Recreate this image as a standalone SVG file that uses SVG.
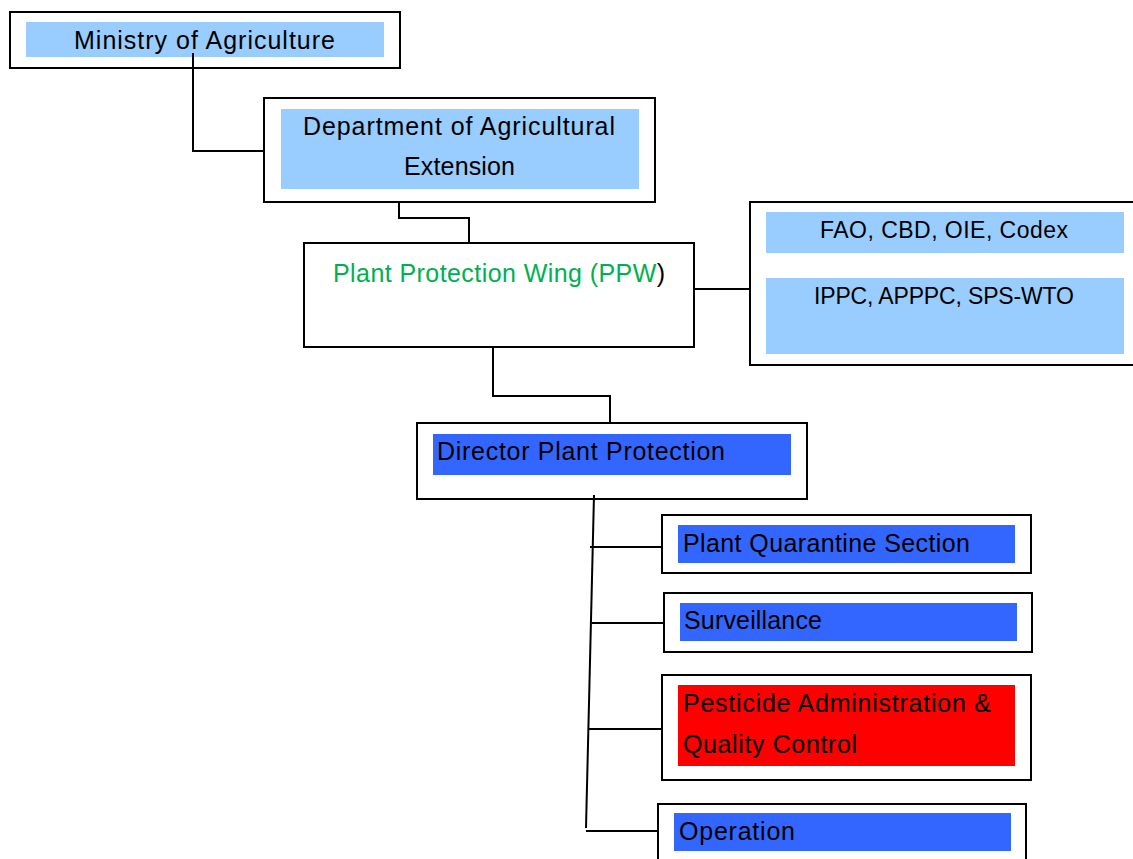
<svg xmlns="http://www.w3.org/2000/svg" width="1133" height="859" viewBox="0 0 1133 859">
<style>
.box{fill:#fff;stroke:#000;stroke-width:2}
.lb{fill:#99CCFF}
.db{fill:#3366FF}
.rd{fill:#FF0000}
.t{font-family:"Liberation Sans",Arial,sans-serif;font-size:25px;fill:#000}
.s{font-size:23px}
.con{fill:none;stroke:#000;stroke-width:2}
</style>
<rect width="1133" height="859" fill="#fff"/>
<g id="ministry">
<rect class="box" x="10" y="12" width="390" height="56"/>
<rect class="lb" x="26" y="22" width="358" height="35"/>
<text class="t" x="74" y="49" textLength="261">Ministry of Agriculture</text>
</g>
<g id="dae">
<rect class="box" x="264" y="98" width="391" height="104"/>
<rect class="lb" x="281" y="109" width="358" height="80"/>
<text class="t" x="303" y="135" textLength="312">Department of Agricultural</text>
<text class="t" x="404" y="175" textLength="111">Extension</text>
</g>
<g id="ppw">
<rect class="box" x="304" y="243" width="390" height="104"/>
<text class="t" x="333" y="282" textLength="332"><tspan fill="#00B050">Plant Protection Wing (PPW</tspan>)</text>
</g>
<g id="intl">
<rect class="box" x="750" y="202" width="390" height="163"/>
<rect class="lb" x="766" y="212" width="358" height="41"/>
<text class="t s" x="820" y="238" textLength="248">FAO, CBD, OIE, Codex</text>
<rect class="lb" x="766" y="278" width="358" height="76"/>
<text class="t s" x="814" y="304" textLength="260">IPPC, APPPC, SPS-WTO</text>
</g>
<g id="director">
<rect class="box" x="417" y="423" width="390" height="76"/>
<rect class="db" x="433" y="434" width="358" height="41"/>
<text class="t" x="437" y="460" textLength="288">Director Plant Protection</text>
</g>
<g id="quarantine">
<rect class="box" x="662" y="515" width="369" height="58"/>
<rect class="db" x="678" y="525" width="337" height="38"/>
<text class="t" x="683" y="552" textLength="287">Plant Quarantine Section</text>
</g>
<g id="surveillance">
<rect class="box" x="664" y="593" width="368" height="59"/>
<rect class="db" x="680" y="603" width="337" height="38"/>
<text class="t" x="684" y="629" textLength="138">Surveillance</text>
</g>
<g id="pesticide">
<rect class="box" x="662" y="675" width="369" height="105"/>
<rect class="rd" x="678" y="685" width="337" height="81"/>
<text class="t" x="683" y="712" textLength="308">Pesticide Administration &amp;</text>
<text class="t" x="683" y="753" textLength="174">Quality Control</text>
</g>
<g id="operation">
<rect class="box" x="658" y="804" width="368" height="70"/>
<rect class="db" x="674" y="813" width="337" height="38"/>
<text class="t" x="679" y="840" textLength="116">Operation</text>
</g>
<g id="connectors">
<polyline class="con" points="193,53 193,151 265,151"/>
<polyline class="con" points="399,202 399,218 469,218 469,243"/>
<line class="con" x1="694" y1="289" x2="750" y2="289"/>
<polyline class="con" points="493,347 493,396 610,396 610,423"/>
<line class="con" x1="594" y1="495" x2="586" y2="828"/>
<line class="con" x1="590" y1="547" x2="662" y2="547"/>
<line class="con" x1="592" y1="623" x2="664" y2="623"/>
<line class="con" x1="589" y1="729" x2="662" y2="729"/>
<line class="con" x1="586" y1="831" x2="658" y2="831"/>
</g>
</svg>
